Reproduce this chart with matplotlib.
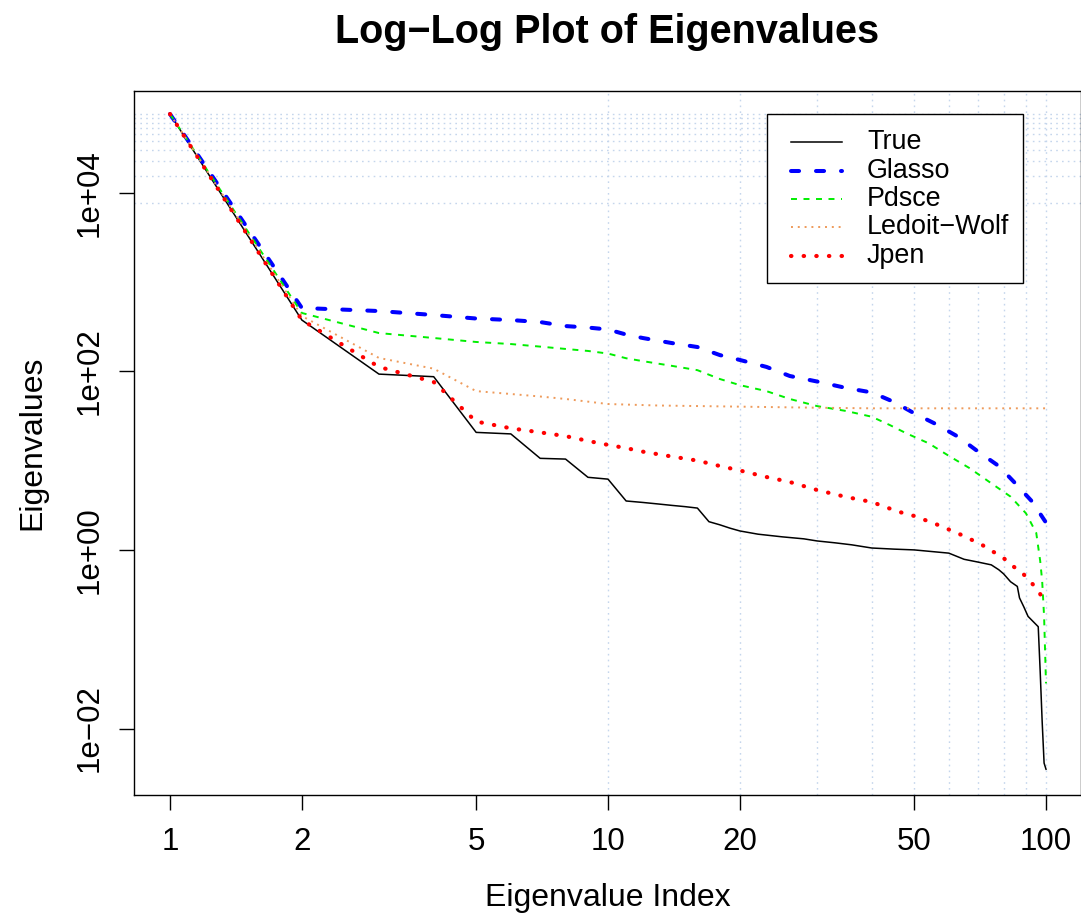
import numpy as np
import matplotlib
matplotlib.use("Agg")
from matplotlib import pyplot as plt
from matplotlib.patches import Rectangle

plt.rcParams['font.family'] = ['Liberation Sans', 'DejaVu Sans']
plt.rcParams['lines.scale_dashes'] = False

# eigenvalues (index, value)
true_idx = [1, 2, 3, 4, 5, 6, 7, 8, 9, 10, 11, 12, 13, 14, 15, 16, 17, 18, 19, 20,
            22, 25, 28, 30, 33, 36, 40, 45, 50, 60, 65, 70, 75, 78, 80, 83, 86, 87,
            89, 91, 96, 97, 98, 99, 100]
true_val = [76000, 375, 93, 87, 20.7, 19.9, 10.6, 10.4, 6.5, 6.2, 3.53, 3.4, 3.27, 3.15,
            3.05, 2.94, 2.07, 1.91, 1.75, 1.63, 1.5, 1.40, 1.33, 1.26, 1.20, 1.14, 1.05,
            1.02, 1.0, 0.92, 0.785, 0.73, 0.68, 0.60, 0.54, 0.44, 0.39, 0.29, 0.23, 0.18,
            0.138, 0.043, 0.012, 0.0041, 0.0035]

glasso_idx = [1, 2, 3, 4, 5, 6, 7, 8, 9, 10, 11, 12, 14, 16, 18, 20, 23, 26, 30, 35,
              40, 45, 50, 56, 63, 70, 78, 85, 93, 100]
glasso_val = [76000, 512, 473, 427, 390, 375, 356, 321, 309, 294, 258, 236, 207, 187,
              152, 134, 112, 88.6, 76.9, 65, 58, 45.3, 33.9, 25.7, 18.5, 12.6, 8.7, 5.6,
              3.47, 2.02]

pdsce_idx = [1, 2, 3, 4, 5, 6, 7, 8, 9, 10, 11, 12, 14, 16, 18, 20, 23, 26, 30, 35,
             40, 44, 48, 54, 60, 67, 75, 83, 90, 95, 97, 98, 99, 100]
pdsce_val = [76000, 450, 268, 236, 213, 202, 189, 178, 169, 158, 140, 130, 115, 103,
             82, 70, 60, 49, 40.8, 35.9, 31, 25, 20.2, 15.6, 11.3, 8.2, 5.57, 3.95, 2.57,
             1.55, 0.75, 0.45, 0.18, 0.032]

lw_idx = [1, 2, 3, 4, 5, 6, 7, 8, 10, 13, 20, 30, 40, 100]
lw_val = [76000, 416, 141, 107, 60, 55.7, 52.2, 49, 43, 41.4, 40.2, 39.1, 38.5, 38.5]

jpen_idx = [1, 2, 3, 4, 5, 6, 7, 8, 9, 10, 11, 12, 14, 16, 18, 20, 23, 26, 30, 35,
            40, 46, 50, 56, 63, 71, 80, 84, 89, 93, 97, 100]
jpen_val = [76000, 375, 112, 75.9, 27.4, 23, 20.7, 18.8, 16.6, 15, 13.8, 12.6, 11.1, 10,
            8.7, 7.75, 6.55, 5.76, 4.69, 3.91, 3.44, 2.68, 2.40, 1.95, 1.53, 1.16, 0.81,
            0.66, 0.53, 0.42, 0.32, 0.24]

grid_h = [7600, 15200, 22800, 30400, 38000, 45600, 53200, 60800, 68400, 76000]
grid_v = [10, 20, 30, 40, 50, 60, 70, 80, 90, 100]

x_ticks = [1, 2, 5, 10, 20, 50, 100]
y_ticks = [1e-2, 1e0, 1e2, 1e4]
y_ticklabels = ['1e\u221202', '1e+00', '1e+02', '1e+04']

fig = plt.figure(figsize=(10.81, 9.18), dpi=100)
AX_L, AX_R, AX_T, AX_B = 134, 1081, 91, 795
ax = fig.add_axes([AX_L / 1081, 1 - AX_B / 918, (AX_R - AX_L) / 1081, (AX_B - AX_T) / 918])
ax.set_xscale('log')
ax.set_yscale('log')

gcol = '#c5d6ec'
for h in grid_h:
    ax.axhline(h, color=gcol, lw=1.0, dashes=(1.2, 3.0), zorder=1)
for v in grid_v:
    ax.axvline(v, color=gcol, lw=1.0, dashes=(1.2, 3.0), zorder=1)

styles = [
    dict(color='black', lw=1.1),
    dict(color='#0000ff', lw=2.9, dashes=(5.8, 12.2), dash_capstyle='round'),
    dict(color='#00ee00', lw=1.4, dashes=(4.3, 4.7)),
    dict(color='#ee9a5a', lw=1.4, dashes=(1.4, 3.5)),
    dict(color='#ff0000', lw=3.0, dashes=(0.3, 8.8), dash_capstyle='round'),
]
labels = ['True', 'Glasso', 'Pdsce', 'Ledoit\u2212Wolf', 'Jpen']
series = [(true_idx, true_val), (glasso_idx, glasso_val), (pdsce_idx, pdsce_val),
          (lw_idx, lw_val), (jpen_idx, jpen_val)]
for (xs, ys), st in zip(series, styles):
    ax.plot(xs, ys, zorder=3, **st)

ax.set_xlim(10 ** ((AX_L - 170) / 438), 10 ** ((AX_R - 170) / 438))
ax.set_ylim(10 ** (4 - (AX_B - 192.7) / 89.3), 10 ** (4 + (192.7 - AX_T) / 89.3))

ax.set_xticks(x_ticks)
ax.set_xticklabels([str(t) for t in x_ticks])
ax.set_yticks(y_ticks)
ax.set_yticklabels(y_ticklabels, rotation=90, va='center')
ax.minorticks_off()
ax.tick_params(axis='both', direction='out', length=10.8, width=1.0,
               labelsize=22.5, color='black')
ax.tick_params(axis='x', pad=12)
ax.tick_params(axis='y', pad=10)
for s in ax.spines.values():
    s.set_linewidth(1.0)

ax.set_xlabel('Eigenvalue Index', fontsize=23, labelpad=19)
ax.set_ylabel('Eigenvalues', fontsize=23, labelpad=20)
fig.text((AX_L + 1081) / 2 / 1081, 1 - 32 / 918, 'Log\u2212Log Plot of Eigenvalues',
         ha='center', va='center', fontsize=28.5, fontweight='bold')


# legend box drawn in pixel layout, converted to axes fraction
def fx(px):
    return (px - AX_L) / (AX_R - AX_L)


def fy(py):
    return (AX_B - py) / (AX_B - AX_T)


ax.add_patch(Rectangle((fx(767), fy(283)), fx(1023) - fx(767), fy(114) - fy(283),
                       transform=ax.transAxes, facecolor='white', edgecolor='black',
                       lw=1.0, zorder=5))
row_y = [142, 171, 199, 227, 256]
for ry, lab, st in zip(row_y, labels, styles):
    ax.plot([fx(791), fx(842)], [fy(ry), fy(ry)], transform=ax.transAxes,
            zorder=6, **st)
    ax.text(fx(867), fy(ry), lab, transform=ax.transAxes, fontsize=19.4,
            va='center', ha='left', zorder=6)

fig.savefig('out.png', dpi=100)
